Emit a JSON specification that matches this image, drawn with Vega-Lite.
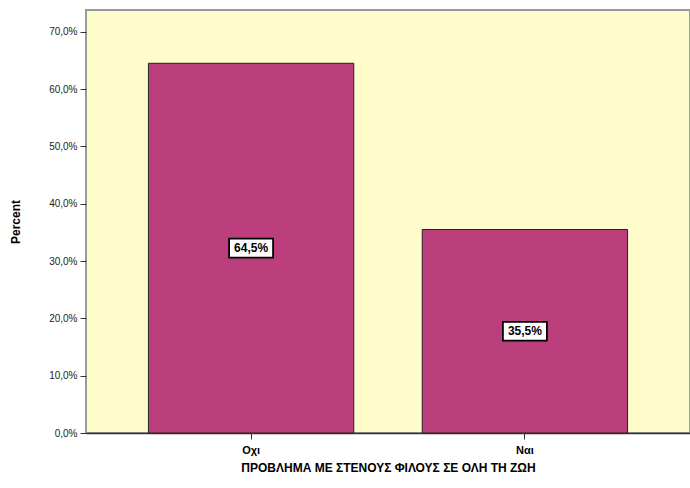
{
  "$schema": "https://vega.github.io/schema/vega-lite/v6.json",
  "width": 604,
  "height": 423,
  "autosize": "none",
  "padding": {"left": 86, "top": 10, "right": 0, "bottom": 55},
  "background": "white",
  "config": {
    "locale": {"number": {"decimal": ",", "thousands": ".", "grouping": [3], "currency": ["", " €"]}},
    "view": {"fill": "#FFFCCC", "stroke": "#9a9a9a", "strokeWidth": 2},
    "font": "Liberation Sans"
  },
  "data": {"values": [
    {"answer": "Οχι", "pct": 0.645, "label": "64,5%"},
    {"answer": "Ναι", "pct": 0.355, "label": "35,5%"}
  ]},
  "transform": [{"calculate": "datum.pct / 2", "as": "mid"}],
  "encoding": {
    "x": {
      "field": "answer", "type": "nominal", "sort": null,
      "scale": {"paddingInner": 0.25, "paddingOuter": 0.228},
      "axis": {
        "title": "ΠΡΟΒΛΗΜΑ ΜΕ ΣΤΕΝΟΥΣ ΦΙΛΟΥΣ ΣΕ ΟΛΗ ΤΗ ΖΩΗ",
        "titleFont": "Liberation Sans", "titleFontSize": 12, "titleFontWeight": "bold", "titleColor": "black",
        "titlePadding": 7,
        "labelAngle": 0, "labelFontSize": 11, "labelFontWeight": "bold", "labelColor": "black", "labelPadding": 5,
        "domainColor": "#333", "domainWidth": 1.5, "tickColor": "#333", "tickSize": 6, "grid": false
      }
    }
  },
  "layer": [
    {
      "mark": {"type": "bar", "fill": "#BB3F7D", "stroke": "#222", "strokeWidth": 1},
      "encoding": {
        "y": {
          "field": "pct", "type": "quantitative",
          "scale": {"domain": [0, 0.738], "nice": false},
          "axis": {
            "title": "Percent", "titleFontSize": 12, "titleFontWeight": "bold", "titleColor": "black", "titlePadding": 26,
            "format": ".1%", "values": [0, 0.1, 0.2, 0.3, 0.4, 0.5, 0.6, 0.7],
            "labelFontSize": 10, "labelColor": "#222", "labelPadding": 3,
            "tickColor": "#333", "tickSize": 6, "domain": false, "grid": false
          }
        }
      }
    },
    {
      "mark": {"type": "point", "shape": "M-1,-0.43L1,-0.43L1,0.43L-1,0.43Z", "size": 1936, "filled": true, "fill": "white", "stroke": "black", "strokeWidth": 1.8, "opacity": 1},
      "encoding": {"y": {"field": "mid", "type": "quantitative"}}
    },
    {
      "mark": {"type": "text", "fontSize": 12, "fontWeight": "bold", "color": "black", "baseline": "middle"},
      "encoding": {"y": {"field": "mid", "type": "quantitative"}, "text": {"field": "label"}}
    }
  ]
}
